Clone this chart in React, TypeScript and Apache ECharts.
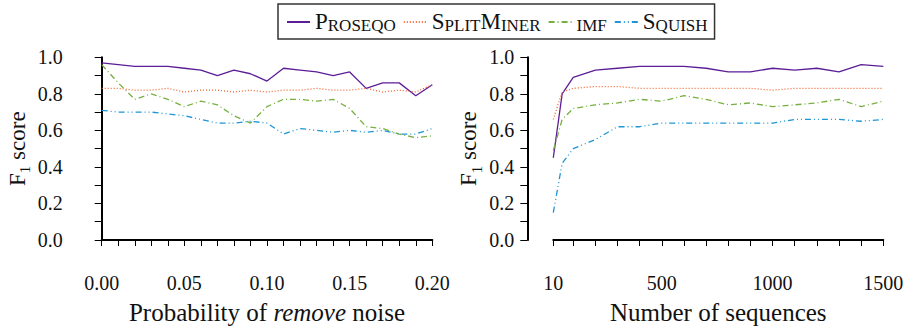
import React, { useEffect, useRef } from "react";
import * as echarts from "echarts";

const seriesNames = ["Proseqo", "SplitMiner", "imf", "Squish"];

const noiseX = [0.0, 0.01, 0.02, 0.03, 0.04, 0.05, 0.06, 0.07, 0.08, 0.09, 0.1, 0.11, 0.12, 0.13, 0.14, 0.15, 0.16, 0.17, 0.18, 0.19, 0.2];
const noiseProseqo = [0.97, 0.96, 0.95, 0.95, 0.95, 0.94, 0.93, 0.9, 0.93, 0.91, 0.87, 0.94, 0.93, 0.92, 0.9, 0.92, 0.83, 0.86, 0.86, 0.79, 0.85];
const noiseSplitMiner = [0.83, 0.83, 0.82, 0.82, 0.83, 0.81, 0.82, 0.82, 0.81, 0.82, 0.81, 0.82, 0.82, 0.83, 0.82, 0.82, 0.83, 0.81, 0.82, 0.81, 0.85];
const noiseImf = [0.96, 0.86, 0.77, 0.8, 0.77, 0.73, 0.76, 0.74, 0.68, 0.64, 0.73, 0.77, 0.77, 0.76, 0.77, 0.72, 0.62, 0.61, 0.58, 0.56, 0.57];
const noiseSquish = [0.71, 0.7, 0.7, 0.7, 0.69, 0.68, 0.66, 0.64, 0.64, 0.65, 0.64, 0.58, 0.61, 0.6, 0.59, 0.6, 0.59, 0.6, 0.58, 0.58, 0.61];

const seqX = [10, 50, 100, 200, 300, 400, 500, 600, 700, 800, 900, 1000, 1100, 1200, 1300, 1400, 1500];
const seqProseqo = [0.45, 0.8, 0.89, 0.93, 0.94, 0.95, 0.95, 0.95, 0.94, 0.92, 0.92, 0.94, 0.93, 0.94, 0.92, 0.96, 0.95];
const seqSplitMiner = [0.66, 0.81, 0.83, 0.84, 0.84, 0.83, 0.83, 0.83, 0.83, 0.83, 0.83, 0.82, 0.83, 0.83, 0.83, 0.83, 0.83];
const seqImf = [0.49, 0.66, 0.72, 0.74, 0.75, 0.77, 0.76, 0.79, 0.77, 0.74, 0.75, 0.73, 0.74, 0.75, 0.77, 0.73, 0.76];
const seqSquish = [0.15, 0.42, 0.5, 0.55, 0.62, 0.62, 0.64, 0.64, 0.64, 0.64, 0.64, 0.64, 0.66, 0.66, 0.66, 0.65, 0.66];

const seqTicks = [10, 100, 200, 300, 400, 500, 600, 700, 800, 900, 1000, 1100, 1200, 1300, 1400, 1500];
const seqLabels = [10, 500, 1000, 1500];
const noiseLabels = [0, 0.05, 0.1, 0.15, 0.2];
const scoreLabels = [0, 0.2, 0.4, 0.6, 0.8, 1.0];

const colors = ["#5c1e96", "#f4622a", "#76b041", "#1e95d6"];
const dashes: any[] = ["solid", [1, 2], [6, 3, 1, 3], [6, 3, 1, 3, 1, 3]];

const FONT = "Liberation Serif";
const INK = "#111";

function pairs(xs: number[], ys: number[]) {
  return xs.map((x, i) => [x, ys[i]]);
}

// emulate small caps with rich text runs
function smallCaps(name: string) {
  let out = "";
  let run = "";
  let runBig: boolean | null = null;
  const flush = () => {
    if (run) out += "{" + (runBig ? "B" : "S") + "|" + run + "}";
    run = "";
  };
  for (const ch of name) {
    const big = ch !== ch.toLowerCase();
    if (runBig !== null && big !== runBig) flush();
    runBig = big;
    run += ch.toUpperCase();
  }
  flush();
  return out;
}

const GRID_TOP = 57.3;
const GRID_H = 182.7;
const Y_OFFSET = 26;
const X_OFFSET = 27;

export default function App() {
  const ref = useRef<HTMLDivElement>(null);
  useEffect(() => {
    if (!ref.current) return;
    const chart = echarts.init(ref.current, null, { renderer: "svg" });
    const leftData = [noiseProseqo, noiseSplitMiner, noiseImf, noiseSquish];
    const rightData = [seqProseqo, seqSplitMiner, seqImf, seqSquish];
    const series: any[] = [];
    seriesNames.forEach((name, i) => {
      series.push({
        name,
        type: "line",
        xAxisIndex: 0,
        yAxisIndex: 0,
        data: pairs(noiseX, leftData[i]),
        symbol: "none",
        lineStyle: { color: colors[i], width: 1.3, type: dashes[i] },
        itemStyle: { color: colors[i] },
      });
      series.push({
        name,
        type: "line",
        xAxisIndex: 1,
        yAxisIndex: 1,
        data: pairs(seqX, rightData[i]),
        symbol: "none",
        lineStyle: { color: colors[i], width: 1.3, type: dashes[i] },
        itemStyle: { color: colors[i] },
      });
    });
    const grids = [
      { left: 101.7, top: GRID_TOP, width: 330.6, height: GRID_H },
      { left: 553.3, top: GRID_TOP, width: 330, height: GRID_H },
    ];
    const yAxisBase = (gridIndex: number) => ({
      type: "value",
      gridIndex,
      min: 0,
      max: 1,
      interval: 0.1,
      offset: Y_OFFSET,
      splitLine: { show: false },
      axisLine: { show: true, lineStyle: { color: "#000", width: 2 } },
      axisTick: { show: true, length: 7, lineStyle: { color: "#000", width: 1 } },
      axisLabel: { show: false },
      name: "{n|F}{s|1}{n| score}",
      nameLocation: "middle",
      nameGap: 47,
      nameTextStyle: {
        fontFamily: FONT,
        rich: {
          n: { fontFamily: FONT, fontSize: 23, color: INK, lineHeight: 24, verticalAlign: "bottom" },
          s: { fontFamily: FONT, fontSize: 15, color: INK, lineHeight: 24, verticalAlign: "bottom", padding: [0, 0, -4, 0] },
        },
      },
    });
    const xAxisCommon = {
      type: "value",
      offset: X_OFFSET,
      splitLine: { show: false },
      axisLine: { show: true, lineStyle: { color: "#000", width: 2 } },
      axisTick: { show: true, length: 6, lineStyle: { color: "#000", width: 1 } },
      axisLabel: { show: false },
    };
    chart.setOption({
      animation: false,
      textStyle: { fontFamily: FONT },
      legend: {
        left: 278,
        top: 4,
        padding: [6, 7, 5, 8],
        itemWidth: 23,
        itemHeight: 10,
        itemGap: 7,
        borderColor: "#333",
        borderWidth: 1.5,
        borderRadius: 0,
        data: seriesNames,
        itemStyle: { opacity: 0 },
        formatter: (name: string) => smallCaps(name),
        textStyle: {
          fontFamily: FONT,
          fontSize: 21,
          color: INK,
          rich: {
            B: { fontFamily: FONT, fontSize: 23, color: INK, lineHeight: 22, verticalAlign: "bottom" },
            S: { fontFamily: FONT, fontSize: 17, color: INK, lineHeight: 22, verticalAlign: "bottom", padding: [0, 0, -1, 0] },
          },
        },
      },
      grid: grids,
      xAxis: [
        { ...xAxisCommon, gridIndex: 0, min: 0, max: 0.2, interval: 0.01 },
        {
          ...xAxisCommon,
          gridIndex: 1,
          min: 10,
          max: 1500,
          axisTick: { ...xAxisCommon.axisTick, customValues: seqTicks },
        },
      ],
      yAxis: [yAxisBase(0), yAxisBase(1)],
      series,
    });

    // tick labels and axis titles placed through the chart's own scales
    try {
      const g: any[] = [];
      const xLabelY = GRID_TOP + GRID_H + X_OFFSET + 16;
      const tickStyle = { fontFamily: FONT, fontSize: 20, fill: INK };
      noiseLabels.forEach((v) => {
        const px = chart.convertToPixel({ xAxisIndex: 0 } as any, v) as any;
        g.push({ type: "text", x: px, y: xLabelY, silent: true, style: { ...tickStyle, text: v.toFixed(2), align: "center", verticalAlign: "middle" } });
      });
      seqLabels.forEach((v) => {
        const px = chart.convertToPixel({ xAxisIndex: 1 } as any, v) as any;
        g.push({ type: "text", x: px, y: xLabelY, silent: true, style: { ...tickStyle, text: String(v), align: "center", verticalAlign: "middle" } });
      });
      [0, 1].forEach((gi) => {
        const lx = grids[gi].left - Y_OFFSET - 7 - 6;
        scoreLabels.forEach((v) => {
          const py = chart.convertToPixel({ yAxisIndex: gi } as any, v) as any;
          g.push({ type: "text", x: lx, y: py, silent: true, style: { ...tickStyle, text: v.toFixed(1), align: "right", verticalAlign: "middle" } });
        });
      });
      const nameY = 312;
      const nameStyle = { fontFamily: FONT, fontSize: 25, fill: INK };
      g.push({
        type: "text",
        x: grids[0].left + grids[0].width / 2,
        y: nameY,
        silent: true,
        style: {
          ...nameStyle,
          text: "{t|Probability of }{i|remove}{t| noise}",
          align: "center",
          verticalAlign: "middle",
          rich: {
            t: { fontFamily: FONT, fontSize: 25, fill: INK, lineHeight: 26, verticalAlign: "bottom" },
            i: { fontFamily: FONT, fontSize: 25, fill: INK, fontStyle: "italic", lineHeight: 26, verticalAlign: "bottom" },
          },
        },
      });
      g.push({
        type: "text",
        x: grids[1].left + grids[1].width / 2,
        y: nameY,
        silent: true,
        style: { ...nameStyle, text: "Number of sequences", align: "center", verticalAlign: "middle" },
      });
      chart.setOption({ graphic: g });
    } catch (e) {
      // leave chart without extra labels
    }
    return () => chart.dispose();
  }, []);
  return (
    <div
      ref={ref}
      style={{ position: "absolute", left: 0, top: 0, width: 911, height: 329 }}
    />
  );
}
